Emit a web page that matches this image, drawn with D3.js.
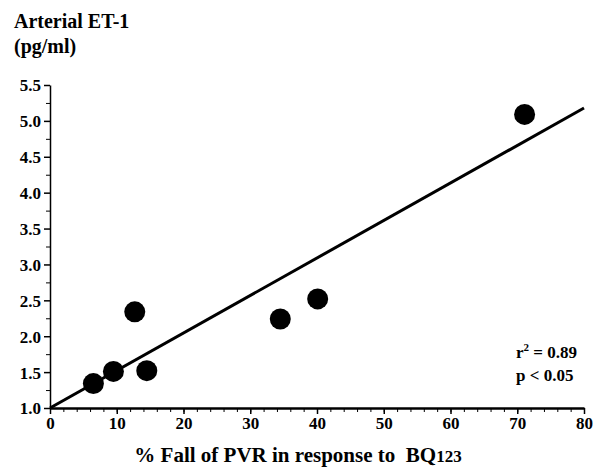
<!DOCTYPE html>
<html lang="en">
<meta charset="utf-8">
<head>
  <style>
    body { margin: 0; background: #fff; }
    text { font-family: "Liberation Serif", "Times New Roman", serif; font-weight: bold; fill: #000; }
    .axis path, .axis line { fill: none; stroke: #000; }
  </style>
  <title></title>
</head>
<body>
<script src="https://d3js.org/d3.v7.min.js"></script>
<script>

  // data
  const fallPVR = [6.5, 9.5, 12.7, 14.5, 34.5, 40.1, 71.1];
  const arterialET1 = [1.34, 1.51, 2.34, 1.52, 2.24, 2.52, 5.09];
  const fitLine = [[0, 1.0], [80, 5.18]];
  const xTicks = [0, 10, 20, 30, 40, 50, 60, 70, 80];
  const yTicks = [1.0, 1.5, 2.0, 2.5, 3.0, 3.5, 4.0, 4.5, 5.0, 5.5];

  const margin = {top: 85, right: 13, bottom: 63, left: 50},
        width = 597 - margin.left - margin.right,
        height = 471 - margin.top - margin.bottom;

  const x = d3.scaleLinear().domain([0, 80]).range([0, width]);
  const y = d3.scaleLinear().domain([1.0, 5.5]).range([height, 0]);

  const svg = d3.select("body").append("svg")
      .attr("width", 597)
      .attr("height", 471);

  const g = svg.append("g")
      .attr("transform", "translate(" + margin.left + "," + margin.top + ")");

  // minor ticks
  g.append("g")
      .attr("class", "axis")
      .attr("transform", "translate(0," + height + ")")
      .call(d3.axisBottom(x).ticks(40).tickSize(4).tickFormat(""))
      .select(".domain").remove();
  g.append("g")
      .attr("class", "axis")
      .call(d3.axisLeft(y).tickValues(d3.range(1.25, 5.5, 0.5)).tickSize(4).tickFormat(""))
      .select(".domain").remove();

  const xAxis = g.append("g")
      .attr("class", "axis")
      .attr("transform", "translate(0," + height + ")")
      .call(d3.axisBottom(x).tickValues(xTicks).tickSize(6).tickSizeOuter(0).tickPadding(3));
  xAxis.select(".domain").attr("stroke-width", 2.5);
  xAxis.selectAll("line").attr("stroke-width", 1.5);
  xAxis.selectAll("text").style("font-size", "17px");

  const yAxis = g.append("g")
      .attr("class", "axis")
      .call(d3.axisLeft(y).tickValues(yTicks).tickFormat(d3.format(".1f")).tickSize(6).tickSizeOuter(0).tickPadding(3));
  yAxis.select(".domain").attr("stroke-width", 1.5);
  yAxis.selectAll("line").attr("stroke-width", 1.5);
  yAxis.selectAll("text").style("font-size", "17px").attr("dy", "0.35em");

  // regression line
  g.append("path")
      .datum(fitLine)
      .attr("fill", "none")
      .attr("stroke", "#000")
      .attr("stroke-width", 3)
      .attr("d", d3.line().x(function (d) { return x(d[0]); }).y(function (d) { return y(d[1]); }));

  // points
  g.selectAll(".dot")
      .data(fallPVR)
      .enter().append("circle")
      .attr("class", "dot")
      .attr("cx", function (d) { return x(d); })
      .attr("cy", function (d, i) { return y(arterialET1[i]); })
      .attr("r", 10.5)
      .attr("fill", "#000");

  // titles
  svg.append("text").attr("x", 14).attr("y", 28).style("font-size", "20px").text("Arterial ET-1");
  svg.append("text").attr("x", 14).attr("y", 53).style("font-size", "20px").text("(pg/ml)");

  const xt = svg.append("text")
      .attr("x", 298).attr("y", 462)
      .attr("text-anchor", "middle")
      .style("font-size", "21px")
      .attr("xml:space", "preserve");
  xt.append("tspan").text("% Fall of PVR in response to  BQ");
  xt.append("tspan").style("font-size", "17px").text("123");

  // statistics
  const r2 = svg.append("text").attr("x", 516).attr("y", 358).style("font-size", "17px");
  r2.append("tspan").text("r");
  r2.append("tspan").attr("dy", -7).style("font-size", "11px").text("2");
  r2.append("tspan").attr("dy", 7).text(" = 0.89");
  svg.append("text").attr("x", 516).attr("y", 381).style("font-size", "17px").text("p < 0.05");

</script>
</body>
</html>
